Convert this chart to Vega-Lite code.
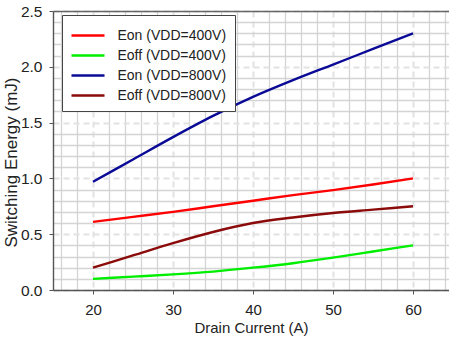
{
  "$schema": "https://vega.github.io/schema/vega-lite/v6.json",
  "autosize": {"type": "none"},
  "padding": {"left": 53, "top": 11, "right": 0, "bottom": 47},
  "width": 396,
  "height": 279,
  "background": "white",
  "config": {
    "font": "Liberation Sans",
    "view": {"stroke": null}
  },
  "data": {
    "values": [
      {"I": 20, "E": 0.61, "s": "Eon (VDD=400V)"},
      {"I": 25, "E": 0.655, "s": "Eon (VDD=400V)"},
      {"I": 30, "E": 0.70, "s": "Eon (VDD=400V)"},
      {"I": 35, "E": 0.75, "s": "Eon (VDD=400V)"},
      {"I": 40, "E": 0.80, "s": "Eon (VDD=400V)"},
      {"I": 45, "E": 0.85, "s": "Eon (VDD=400V)"},
      {"I": 50, "E": 0.895, "s": "Eon (VDD=400V)"},
      {"I": 55, "E": 0.945, "s": "Eon (VDD=400V)"},
      {"I": 60, "E": 1.00, "s": "Eon (VDD=400V)"},
      {"I": 20, "E": 0.10, "s": "Eoff (VDD=400V)"},
      {"I": 25, "E": 0.12, "s": "Eoff (VDD=400V)"},
      {"I": 30, "E": 0.14, "s": "Eoff (VDD=400V)"},
      {"I": 35, "E": 0.165, "s": "Eoff (VDD=400V)"},
      {"I": 40, "E": 0.20, "s": "Eoff (VDD=400V)"},
      {"I": 45, "E": 0.24, "s": "Eoff (VDD=400V)"},
      {"I": 50, "E": 0.29, "s": "Eoff (VDD=400V)"},
      {"I": 55, "E": 0.345, "s": "Eoff (VDD=400V)"},
      {"I": 60, "E": 0.40, "s": "Eoff (VDD=400V)"},
      {"I": 20, "E": 0.97, "s": "Eon (VDD=800V)"},
      {"I": 25, "E": 1.17, "s": "Eon (VDD=800V)"},
      {"I": 30, "E": 1.37, "s": "Eon (VDD=800V)"},
      {"I": 35, "E": 1.56, "s": "Eon (VDD=800V)"},
      {"I": 40, "E": 1.73, "s": "Eon (VDD=800V)"},
      {"I": 45, "E": 1.88, "s": "Eon (VDD=800V)"},
      {"I": 50, "E": 2.02, "s": "Eon (VDD=800V)"},
      {"I": 55, "E": 2.16, "s": "Eon (VDD=800V)"},
      {"I": 60, "E": 2.30, "s": "Eon (VDD=800V)"},
      {"I": 20, "E": 0.20, "s": "Eoff (VDD=800V)"},
      {"I": 25, "E": 0.31, "s": "Eoff (VDD=800V)"},
      {"I": 30, "E": 0.42, "s": "Eoff (VDD=800V)"},
      {"I": 35, "E": 0.52, "s": "Eoff (VDD=800V)"},
      {"I": 40, "E": 0.60, "s": "Eoff (VDD=800V)"},
      {"I": 45, "E": 0.65, "s": "Eoff (VDD=800V)"},
      {"I": 50, "E": 0.69, "s": "Eoff (VDD=800V)"},
      {"I": 55, "E": 0.72, "s": "Eoff (VDD=800V)"},
      {"I": 60, "E": 0.75, "s": "Eoff (VDD=800V)"}
    ]
  },
  "layer": [
    {
      "mark": {"type": "line", "strokeOpacity": 0},
      "encoding": {
        "x": {
          "field": "I", "type": "quantitative",
          "scale": {"domain": [15, 64.5], "nice": false, "zero": false},
          "axis": {
            "orient": "top",
            "title": null,
            "values": [16,18,22,24,26,28,32,34,36,38,42,44,46,48,52,54,56,58,62,64],
            "labels": false, "ticks": false,
            "domain": true, "domainColor": "#666666", "domainWidth": 1.4,
            "grid": true, "gridColor": "#d4d4d4", "gridWidth": 1.3, "gridDash": [3, 0.01], "gridOpacity": 1
          }
        },
        "y": {
          "field": "E", "type": "quantitative",
          "scale": {"domain": [0, 2.5], "nice": false},
          "axis": {
            "orient": "left",
            "title": null,
            "values": [0.1,0.2,0.3,0.4,0.6,0.7,0.8,0.9,1.1,1.2,1.3,1.4,1.6,1.7,1.8,1.9,2.1,2.2,2.3,2.4],
            "labels": false, "ticks": false, "domain": false,
            "grid": true, "gridColor": "#d4d4d4", "gridWidth": 1.3, "gridDash": [3, 0.01], "gridOpacity": 1
          }
        },
        "detail": {"field": "s"}
      }
    },
    {
      "mark": {"type": "line", "strokeWidth": 2.4, "interpolate": "monotone"},
      "encoding": {
        "x": {
          "field": "I", "type": "quantitative",
          "axis": {
            "orient": "bottom",
            "title": "Drain Current (A)",
            "values": [20, 30, 40, 50, 60],
            "grid": true, "gridColor": "#e2e2e2", "gridDash": [6, 4], "gridWidth": 2, "gridOpacity": 1,
            "tickSize": 4, "tickColor": "#555555",
            "domainColor": "#555555", "domainWidth": 1.4,
            "labelFontSize": 15, "labelColor": "#222222", "labelPadding": 8,
            "titleFontSize": 15, "titleFontWeight": "normal", "titleColor": "#222222", "titlePadding": 3
          }
        },
        "y": {
          "field": "E", "type": "quantitative",
          "axis": {
            "orient": "left",
            "title": "Switching Energy (mJ)",
            "values": [0, 0.5, 1.0, 1.5, 2.0, 2.5],
            "format": ".1f",
            "grid": true, "gridColor": "#e2e2e2", "gridDash": [6, 4], "gridWidth": 2, "gridOpacity": 1,
            "tickSize": 4, "tickColor": "#555555",
            "domainColor": "#555555", "domainWidth": 1.4,
            "labelFontSize": 15.5, "labelColor": "#222222", "labelPadding": 7,
            "titleFontSize": 17, "titleFontWeight": "normal", "titleColor": "#222222",
            "titleX": -33, "titleY": 151, "titleBaseline": "bottom", "titleAlign": "center", "titleAngle": -90
          }
        },
        "color": {
          "field": "s", "type": "nominal",
          "scale": {
            "domain": ["Eon (VDD=400V)", "Eoff (VDD=400V)", "Eon (VDD=800V)", "Eoff (VDD=800V)"],
            "range": ["#ff0000", "#00ee00", "#0a0a96", "#8b0a0a"]
          },
          "legend": {
            "title": null,
            "orient": "none",
            "legendX": 9,
            "legendY": 4,
            "fillColor": "white",
            "strokeColor": "#444444",
            "padding": 8,
            "symbolType": "M-1.5,0L1.5,0",
            "symbolSize": 484,
            "symbolOffset": 5.5,
            "symbolStrokeWidth": 2.5,
            "rowPadding": -4,
            "labelFontSize": 14,
            "labelColor": "#222222",
            "labelOffset": 17
          }
        }
      }
    }
  ],
  "resolve": {"axis": {"x": "independent", "y": "independent"}}
}
